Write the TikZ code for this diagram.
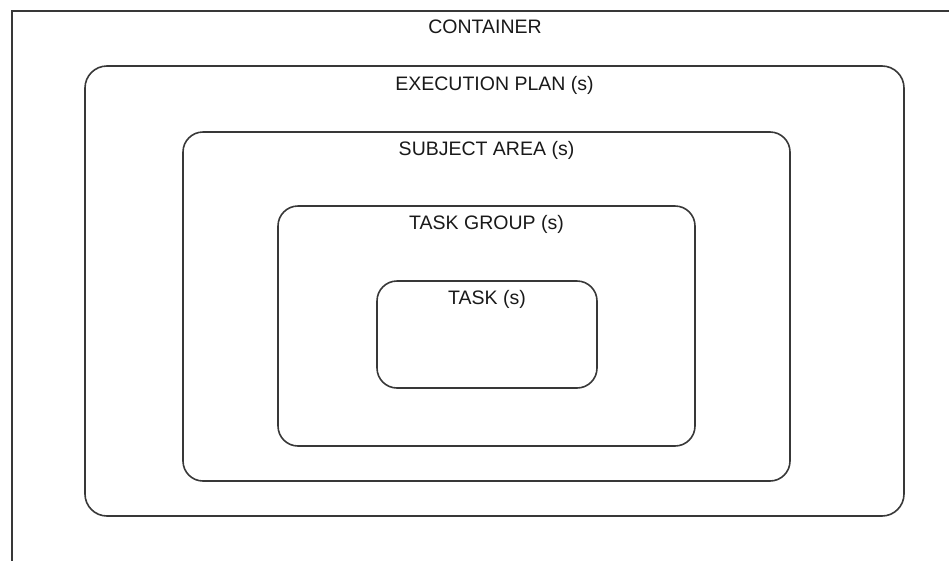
\documentclass[tikz,border=0pt]{standalone}
\usepackage{fontspec}
\setmainfont{Liberation Sans}
\begin{document}
\begin{tikzpicture}[x=1pt,y=-1pt,
    tier/.style={draw=black!78,line width=1.6pt,rounded corners=22pt,inner sep=0pt,outer sep=0pt},
    tiername/.style={anchor=base,inner sep=0pt,text=black!90,font=\fontsize{19.5}{23}\selectfont}]
  \useasboundingbox (0,0) rectangle (949,560);
  \node[draw=black!78,line width=1.6pt,inner sep=0pt,minimum width=960pt,minimum height=560pt,anchor=north west] (container) at (11,10) {};
  \node[tier,minimum width=819pt,minimum height=450pt] (plan) at (494.5,291) {};
  \node[tier,rounded corners=20pt,minimum width=607pt,minimum height=349pt] (area) at (486.5,306.5) {};
  \node[tier,rounded corners=20pt,minimum width=417pt,minimum height=240pt] (group) at (486.5,326) {};
  \node[tier,rounded corners=20pt,minimum width=220pt,minimum height=107pt] (task) at (487,334.5) {};
  \path (485,33) node[tiername] (containername) {CONTAINER};
  \path ([yshift=-24pt]plan.north) node[tiername] (planname) {EXECUTION PLAN (s)};
  \path ([yshift=-23.5pt]area.north) node[tiername] (areaname) {SUBJECT AREA (s)};
  \path ([yshift=-23.5pt]group.north) node[tiername] (groupname) {TASK GROUP (s)};
  \path ([yshift=-23.5pt]task.north) node[tiername] (taskname) {TASK (s)};
\end{tikzpicture}
\end{document}
